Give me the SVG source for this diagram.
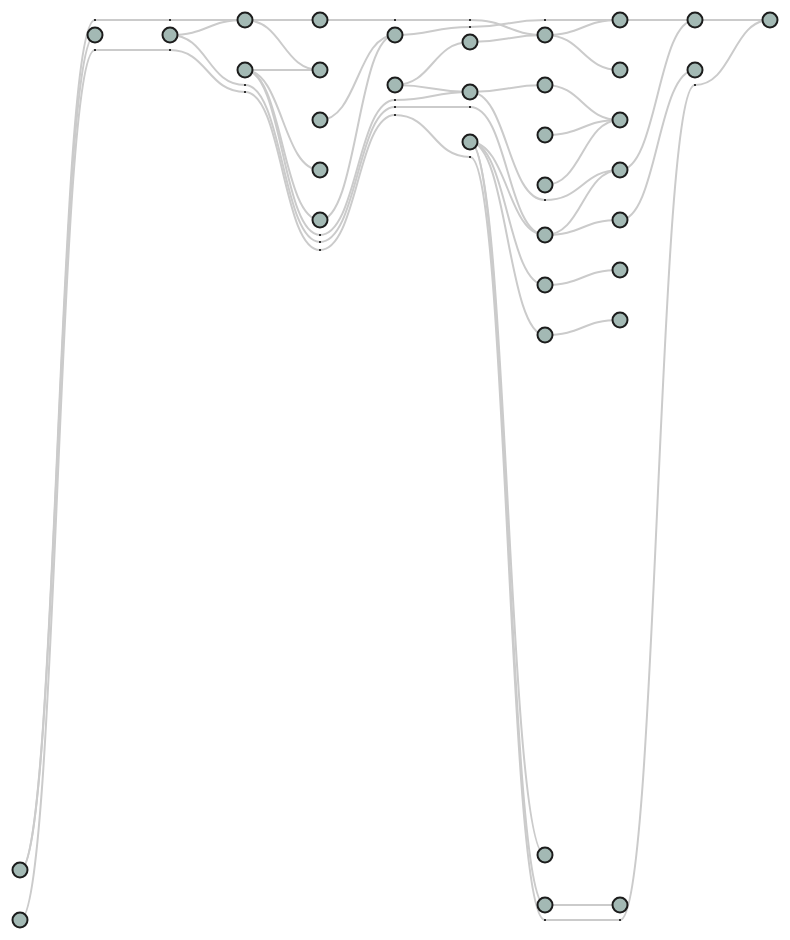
<svg xmlns="http://www.w3.org/2000/svg" width="790" height="940" viewBox="0 0 790 940">
<style>
.e{fill:none;stroke:#cbcbcb;stroke-width:2}
.d{fill:#333}
.n{fill:#a3b9b4;stroke:#1c1c1c;stroke-width:2}
</style>
<rect width="790" height="940" fill="#fff"/>
<g id="connectors">
<path class="e" d="M20,870C57.5,870 57.5,20 95,20"/>
<path class="e" d="M95,20C132.5,20 132.5,20 170,20"/>
<path class="e" d="M170,20C207.5,20 207.5,20 245,20"/>
<path class="e" d="M20,870C57.5,870 57.5,35 95,35"/>
<path class="e" d="M20,920C57.5,920 57.5,50 95,50"/>
<path class="e" d="M95,50C132.5,50 132.5,50 170,50"/>
<path class="e" d="M170,50C207.5,50 207.5,92 245,92"/>
<path class="e" d="M170,35C207.5,35 207.5,20 245,20"/>
<path class="e" d="M170,35C207.5,35 207.5,85 245,85"/>
<path class="e" d="M245,20C282.5,20 282.5,20 320,20"/>
<path class="e" d="M245,20C282.5,20 282.5,70 320,70"/>
<path class="e" d="M245,70C282.5,70 282.5,70 320,70"/>
<path class="e" d="M245,70C282.5,70 282.5,170 320,170"/>
<path class="e" d="M245,70C282.5,70 282.5,220 320,220"/>
<path class="e" d="M245,70C282.5,70 282.5,235 320,235"/>
<path class="e" d="M245,85C282.5,85 282.5,242 320,242"/>
<path class="e" d="M245,92C282.5,92 282.5,250 320,250"/>
<path class="e" d="M320,20C357.5,20 357.5,20 395,20"/>
<path class="e" d="M320,120C357.5,120 357.5,35 395,35"/>
<path class="e" d="M320,220C357.5,220 357.5,35 395,35"/>
<path class="e" d="M320,235C357.5,235 357.5,100 395,100"/>
<path class="e" d="M320,242C357.5,242 357.5,107 395,107"/>
<path class="e" d="M320,250C357.5,250 357.5,115 395,115"/>
<path class="e" d="M395,20C432.5,20 432.5,20 470,20"/>
<path class="e" d="M395,35C432.5,35 432.5,27 470,27"/>
<path class="e" d="M395,85C432.5,85 432.5,42 470,42"/>
<path class="e" d="M395,85C432.5,85 432.5,92 470,92"/>
<path class="e" d="M395,100C432.5,100 432.5,92 470,92"/>
<path class="e" d="M395,107C432.5,107 432.5,107 470,107"/>
<path class="e" d="M395,115C432.5,115 432.5,157 470,157"/>
<path class="e" d="M470,20C507.5,20 507.5,35 545,35"/>
<path class="e" d="M470,27C507.5,27 507.5,20 545,20"/>
<path class="e" d="M470,42C507.5,42 507.5,35 545,35"/>
<path class="e" d="M470,92C507.5,92 507.5,85 545,85"/>
<path class="e" d="M470,92C507.5,92 507.5,200 545,200"/>
<path class="e" d="M470,107C507.5,107 507.5,235 545,235"/>
<path class="e" d="M470,142C507.5,142 507.5,235 545,235"/>
<path class="e" d="M470,142C507.5,142 507.5,285 545,285"/>
<path class="e" d="M470,142C507.5,142 507.5,335 545,335"/>
<path class="e" d="M470,142C507.5,142 507.5,855 545,855"/>
<path class="e" d="M470,142C507.5,142 507.5,905 545,905"/>
<path class="e" d="M470,157C507.5,157 507.5,920 545,920"/>
<path class="e" d="M545,20C582.5,20 582.5,20 620,20"/>
<path class="e" d="M545,35C582.5,35 582.5,20 620,20"/>
<path class="e" d="M545,35C582.5,35 582.5,70 620,70"/>
<path class="e" d="M545,85C582.5,85 582.5,120 620,120"/>
<path class="e" d="M545,135C582.5,135 582.5,120 620,120"/>
<path class="e" d="M545,185C582.5,185 582.5,120 620,120"/>
<path class="e" d="M545,200C582.5,200 582.5,170 620,170"/>
<path class="e" d="M545,235C582.5,235 582.5,170 620,170"/>
<path class="e" d="M545,235C582.5,235 582.5,220 620,220"/>
<path class="e" d="M545,285C582.5,285 582.5,270 620,270"/>
<path class="e" d="M545,335C582.5,335 582.5,320 620,320"/>
<path class="e" d="M545,905C582.5,905 582.5,905 620,905"/>
<path class="e" d="M545,920C582.5,920 582.5,920 620,920"/>
<path class="e" d="M620,20C657.5,20 657.5,20 695,20"/>
<path class="e" d="M620,170C657.5,170 657.5,20 695,20"/>
<path class="e" d="M620,220C657.5,220 657.5,70 695,70"/>
<path class="e" d="M620,920C657.5,920 657.5,85 695,85"/>
<path class="e" d="M695,20C732.5,20 732.5,20 770,20"/>
<path class="e" d="M695,85C732.5,85 732.5,20 770,20"/>
<g id="dummies">
<rect class="d" x="94" y="19" width="2" height="2"/>
<rect class="d" x="94" y="49" width="2" height="2"/>
<rect class="d" x="169" y="19" width="2" height="2"/>
<rect class="d" x="169" y="49" width="2" height="2"/>
<rect class="d" x="244" y="84" width="2" height="2"/>
<rect class="d" x="244" y="91" width="2" height="2"/>
<rect class="d" x="319" y="234" width="2" height="2"/>
<rect class="d" x="319" y="241" width="2" height="2"/>
<rect class="d" x="319" y="249" width="2" height="2"/>
<rect class="d" x="394" y="19" width="2" height="2"/>
<rect class="d" x="394" y="99" width="2" height="2"/>
<rect class="d" x="394" y="106" width="2" height="2"/>
<rect class="d" x="394" y="114" width="2" height="2"/>
<rect class="d" x="469" y="19" width="2" height="2"/>
<rect class="d" x="469" y="26" width="2" height="2"/>
<rect class="d" x="469" y="106" width="2" height="2"/>
<rect class="d" x="469" y="156" width="2" height="2"/>
<rect class="d" x="544" y="19" width="2" height="2"/>
<rect class="d" x="544" y="199" width="2" height="2"/>
<rect class="d" x="544" y="919" width="2" height="2"/>
<rect class="d" x="619" y="919" width="2" height="2"/>
<rect class="d" x="694" y="84" width="2" height="2"/>
</g>
</g>
<g id="n0a"><circle class="n" cx="20" cy="870" r="7.5"/></g>
<g id="n0b"><circle class="n" cx="20" cy="920" r="7.5"/></g>
<g id="n1a"><circle class="n" cx="95" cy="35" r="7.5"/></g>
<g id="n2a"><circle class="n" cx="170" cy="35" r="7.5"/></g>
<g id="n3a"><circle class="n" cx="245" cy="20" r="7.5"/></g>
<g id="n3b"><circle class="n" cx="245" cy="70" r="7.5"/></g>
<g id="n4a"><circle class="n" cx="320" cy="20" r="7.5"/></g>
<g id="n4b"><circle class="n" cx="320" cy="70" r="7.5"/></g>
<g id="n4c"><circle class="n" cx="320" cy="120" r="7.5"/></g>
<g id="n4d"><circle class="n" cx="320" cy="170" r="7.5"/></g>
<g id="n4e"><circle class="n" cx="320" cy="220" r="7.5"/></g>
<g id="n5a"><circle class="n" cx="395" cy="35" r="7.5"/></g>
<g id="n5b"><circle class="n" cx="395" cy="85" r="7.5"/></g>
<g id="n6a"><circle class="n" cx="470" cy="42" r="7.5"/></g>
<g id="n6b"><circle class="n" cx="470" cy="92" r="7.5"/></g>
<g id="n6c"><circle class="n" cx="470" cy="142" r="7.5"/></g>
<g id="n7a"><circle class="n" cx="545" cy="35" r="7.5"/></g>
<g id="n7b"><circle class="n" cx="545" cy="85" r="7.5"/></g>
<g id="n7c"><circle class="n" cx="545" cy="135" r="7.5"/></g>
<g id="n7d"><circle class="n" cx="545" cy="185" r="7.5"/></g>
<g id="n7e"><circle class="n" cx="545" cy="235" r="7.5"/></g>
<g id="n7f"><circle class="n" cx="545" cy="285" r="7.5"/></g>
<g id="n7g"><circle class="n" cx="545" cy="335" r="7.5"/></g>
<g id="n7h"><circle class="n" cx="545" cy="855" r="7.5"/></g>
<g id="n7i"><circle class="n" cx="545" cy="905" r="7.5"/></g>
<g id="n8a"><circle class="n" cx="620" cy="20" r="7.5"/></g>
<g id="n8b"><circle class="n" cx="620" cy="70" r="7.5"/></g>
<g id="n8c"><circle class="n" cx="620" cy="120" r="7.5"/></g>
<g id="n8d"><circle class="n" cx="620" cy="170" r="7.5"/></g>
<g id="n8e"><circle class="n" cx="620" cy="220" r="7.5"/></g>
<g id="n8f"><circle class="n" cx="620" cy="270" r="7.5"/></g>
<g id="n8g"><circle class="n" cx="620" cy="320" r="7.5"/></g>
<g id="n8h"><circle class="n" cx="620" cy="905" r="7.5"/></g>
<g id="n9a"><circle class="n" cx="695" cy="20" r="7.5"/></g>
<g id="n9b"><circle class="n" cx="695" cy="70" r="7.5"/></g>
<g id="n10a"><circle class="n" cx="770" cy="20" r="7.5"/></g>
</svg>
